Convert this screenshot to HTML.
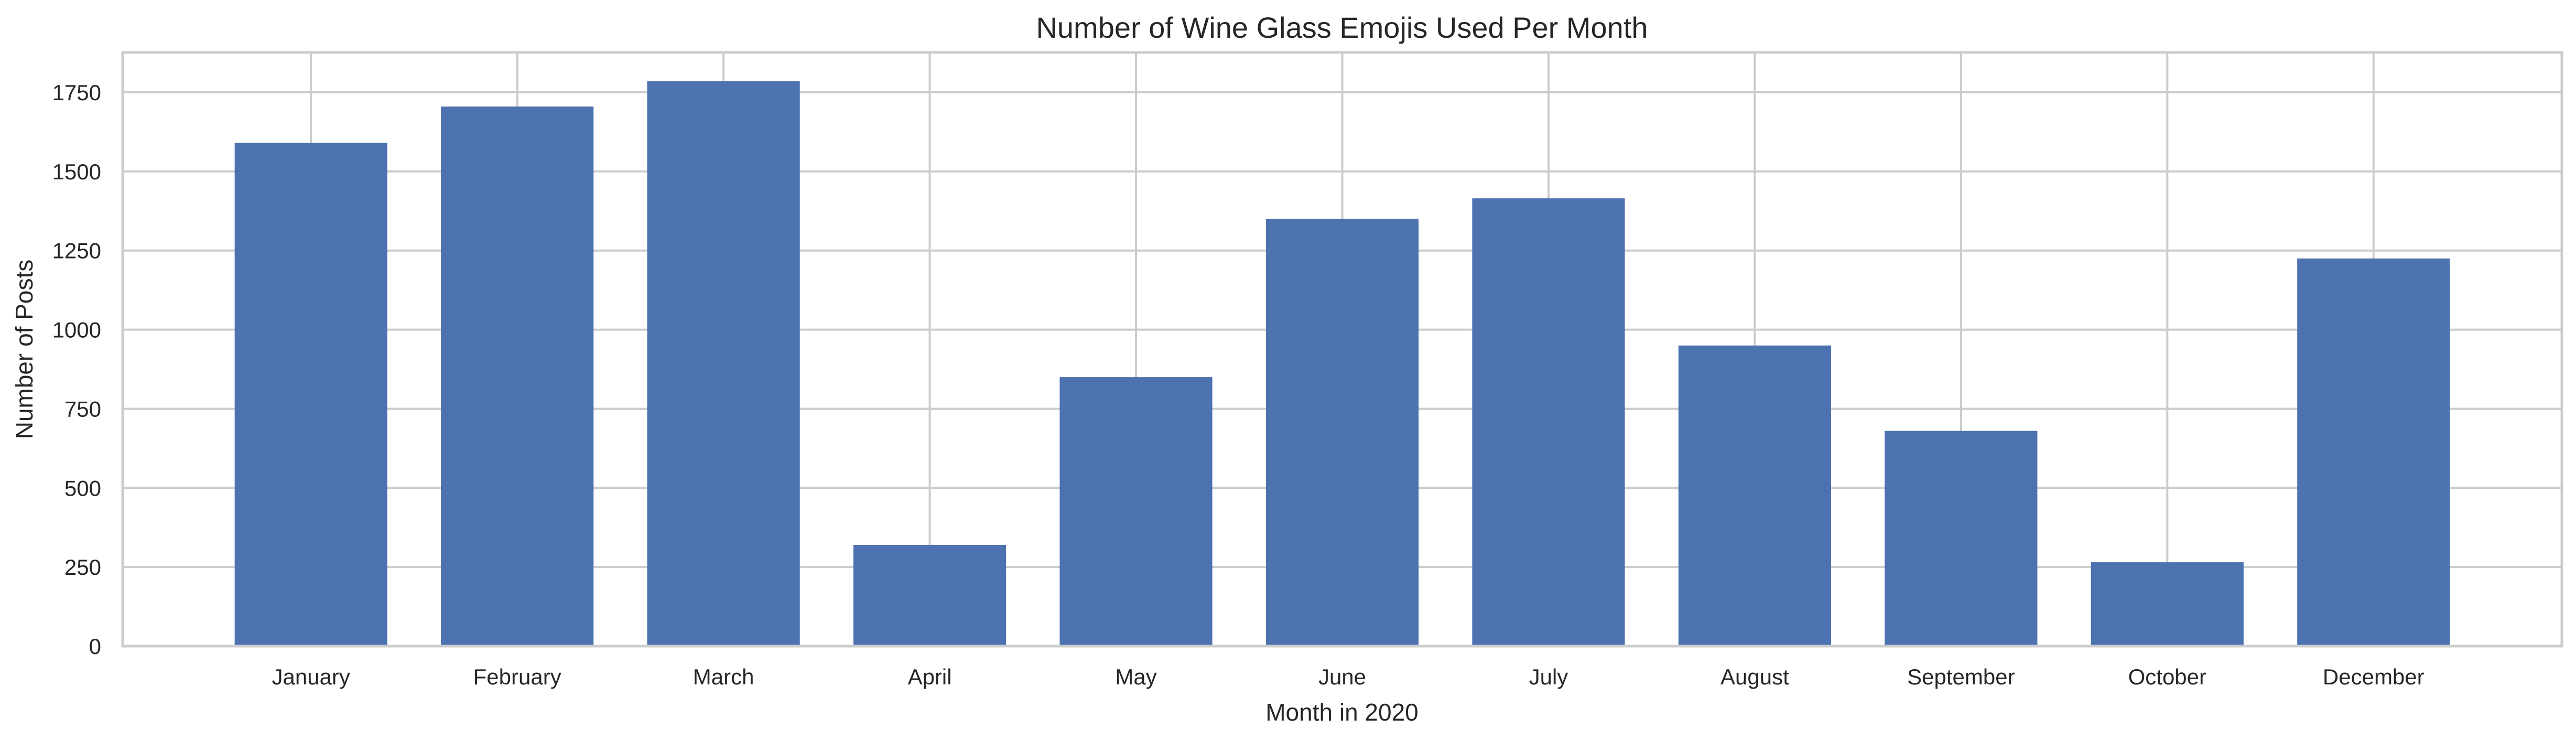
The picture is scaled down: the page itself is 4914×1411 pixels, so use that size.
<!DOCTYPE html>
<html><head><meta charset="utf-8"><style>
html,body{margin:0;padding:0;background:#fff;}
svg text{font-family:"Liberation Sans",Arial,sans-serif;fill:#262626;}
</style></head><body>
<svg id="chart" width="4914" height="1406" xmlns="http://www.w3.org/2000/svg">
<rect x="0" y="0" width="4914" height="1406" fill="#fff"/>
<g id="grid"></g>
<g id="bars"></g>
<g id="axes"></g>
<text x="2560" y="72" font-size="56" text-anchor="middle">Number of Wine Glass Emojis Used Per Month</text>
<text x="2560" y="1374" font-size="46" text-anchor="middle">Month in 2020</text>
<text transform="translate(62,666) rotate(-90)" font-size="46" text-anchor="middle">Number of Posts</text>
</svg>
<script>
const categories = ["January","February","March","April","May","June","July","August","September","October","December"];
const values = [1590,1705,1785,320,850,1350,1415,950,680,265,1225];
const yTicks = [0,250,500,750,1000,1250,1500,1750];

const L=234,R=4887,T=100,B=1232;
const xMin=-0.913,xMax=10.913,yMax=1876;
const xs=i=>L+(i-xMin)/(xMax-xMin)*(R-L);
const ys=v=>B-v/yMax*(B-T);
const bw=0.74*(R-L)/(xMax-xMin);
const NS="http://www.w3.org/2000/svg";
function mk(tag,attrs,parent){const e=document.createElementNS(NS,tag);for(const k in attrs)e.setAttribute(k,attrs[k]);parent.appendChild(e);return e;}
const grid=document.getElementById('grid'),bars=document.getElementById('bars'),axes=document.getElementById('axes');
yTicks.forEach(t=>{
  const l=mk('line',{x1:L,x2:R,y1:ys(t),y2:ys(t),stroke:'#cccccc','stroke-width':4},grid);
  
  
  const tx=mk('text',{x:193,y:ys(t)+15,'font-size':42,'text-anchor':'end'},axes);
  tx.textContent=t;
  
  
});
categories.forEach((c,i)=>{
  const l=mk('line',{x1:xs(i),x2:xs(i),y1:T,y2:B,stroke:'#cccccc','stroke-width':4},grid);
  
  
  const r=mk('rect',{x:xs(i)-bw/2,y:ys(values[i]),width:bw,height:B-ys(values[i]),fill:'#4c72b0'},bars);
  
  
  const tx=mk('text',{x:xs(i),y:1305,'font-size':42,'text-anchor':'middle'},axes);
  tx.textContent=c;
  
  
});
const sp=mk('rect',{x:L,y:T,width:R-L,height:B-T,fill:'none',stroke:'#cccccc','stroke-width':5},axes);


</script>
</body></html>
